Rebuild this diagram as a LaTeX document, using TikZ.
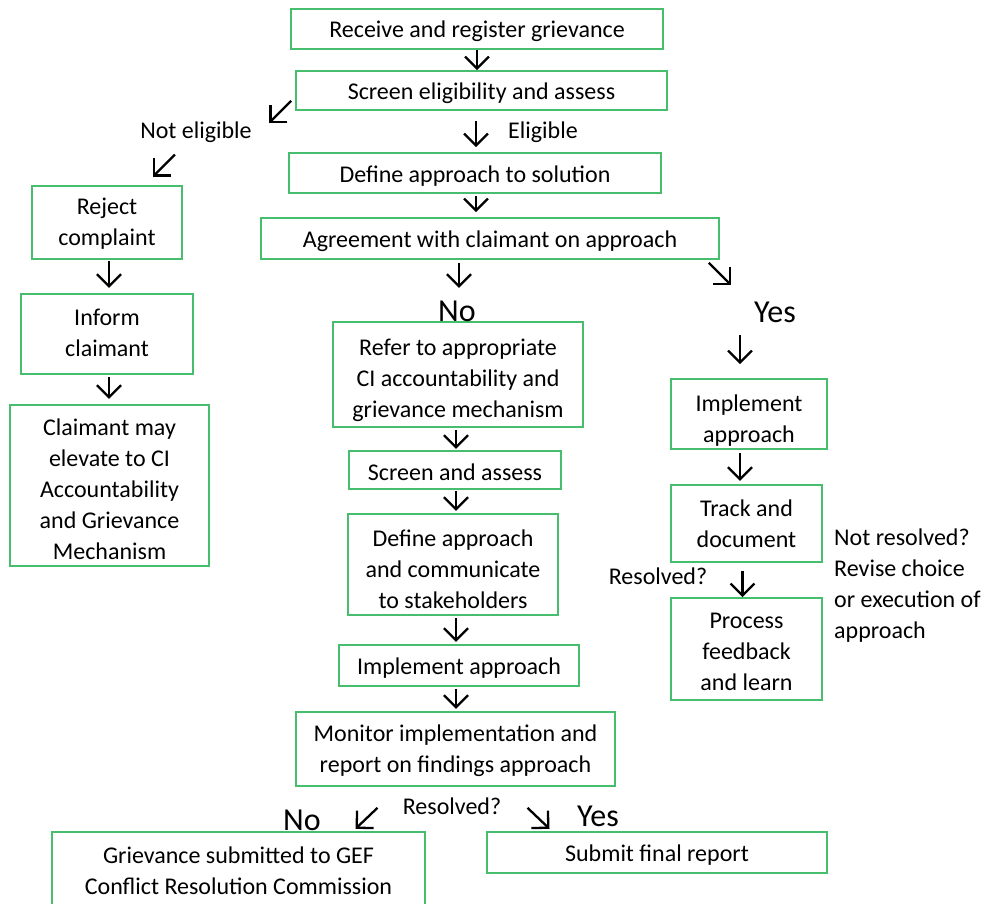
\documentclass[tikz,border=0pt]{standalone}
\usepackage{fontspec}
\setmainfont{Carlito}
\usetikzlibrary{arrows.meta,calc}
\definecolor{boxgreen}{RGB}{70,190,110}
\newcommand\toppad[1]{\rule{0pt}{#1pt}}
\tikzset{
  box/.style={draw=boxgreen,line width=1.6pt,align=center,inner sep=0pt,
    font=\fontsize{24}{31}\selectfont\rule{0pt}{22pt}},
  lbl/.style={inner sep=0pt,font=\fontsize{24}{31}\selectfont},
  big/.style={inner sep=0pt,font=\fontsize{32}{38}\selectfont},
  arr/.style={line width=2.3pt,-{Straight Barb[length=12pt,width=24pt]}}
}
\begin{document}
\begin{tikzpicture}[x=1pt,y=1pt]
  \useasboundingbox (0,0) rectangle (987,-903);
  \node[box,minimum width=372pt,minimum height=40pt] (recv) at (477,-29) {Receive and register grievance};
  \node[box,minimum width=371pt,minimum height=39pt] (screen) at (481.5,-90.5) {Screen eligibility and assess};
  \node[box,minimum width=372pt,minimum height=40pt] (define) at (475,-173) {Define approach to solution};
  \node[box,minimum width=458pt,minimum height=41pt] (agree) at (490,-238.5) {Agreement with claimant on approach};
  \node[box,minimum width=150pt,minimum height=73pt,text depth=2pt] (reject) at (107,-222.5) {Reject\\complaint};
  \node[box,minimum width=172pt,minimum height=80pt,text depth=2pt] (inform) at (107,-334) {Inform\\claimant};
  \node[box,minimum width=199pt,minimum height=161pt] (elevate) at (109.5,-485.5) {\toppad{25}Claimant may\\elevate to CI\\Accountability\\and Grievance\\Mechanism};
  \node[box,minimum width=250pt,minimum height=105pt] (refer) at (458,-374.5) {\toppad{28}Refer to appropriate\\CI accountability and\\grievance mechanism};
  \node[box,minimum width=212pt,minimum height=38pt] (screenB) at (455,-470) {Screen and assess};
  \node[box,minimum width=210pt,minimum height=101pt] (comm) at (453,-564.5) {\toppad{26}Define approach\\and communicate\\to stakeholders};
  \node[box,minimum width=240pt,minimum height=41pt] (impl) at (459,-665.5) {Implement approach};
  \node[box,minimum width=319pt,minimum height=74pt,text depth=1pt] (monitor) at (455.5,-749) {Monitor implementation and\\report on findings approach};
  \node[box,minimum width=373pt,minimum height=78pt] (gef) at (238.5,-871) {Grievance submitted to GEF\\Conflict Resolution Commission};
  \node[box,minimum width=340pt,minimum height=41pt] (final) at (657,-852.5) {Submit final report};
  \node[box,minimum width=156pt,minimum height=70pt] (implR) at (749,-414) {\toppad{30}Implement\\approach};
  \node[box,minimum width=151pt,minimum height=77pt] (track) at (746.5,-523.5) {Track and\\document};
  \node[box,minimum width=151pt,minimum height=102pt] (process) at (746.5,-649) {\toppad{22}Process\\feedback\\and learn};

  \node[lbl] (noteli) at (196,-132) {Not eligible};
  \node[lbl,anchor=west] (eli) at (508,-132) {Eligible};
  \node[big] (noA) at (457,-311) {No};
  \node[big] (yesA) at (775,-312) {Yes};
  \node[lbl] (resA) at (658,-576) {Resolved?};
  \node[lbl,anchor=west,align=left] (notres) at (834,-586) {Not resolved?\\Revise choice\\or execution of\\approach};
  \node[lbl] (resB) at (452,-806) {Resolved?};
  \node[big] (noB) at (302,-820) {No};
  \node[big] (yesB) at (598,-816) {Yes};

  \draw[arr] (recv.south) -- (recv.south |- screen.north);
  \draw[arr] ($(screen.south -| define.north)+(1,-10)$) -- ($(define.north)+(1,5)$);
  \draw[arr] ($(define.south)+(1,-2)$) -- ($(define.south |- agree.north)+(1,5)$);
  \draw[arr] ($(agree.south -| noA.north)+(2,-3)$) -- ++(0,-25);
  \draw[arr] ($(agree.south east)+(-11,-3)$) -- ++(22,-22);
  \draw[arr] ($(implR.north)+(-9,43)$) -- ($(implR.north)+(-9,14)$);
  \draw[arr] ($(implR.south)+(-9,-3)$) -- ($(implR.south)+(-9,-31)$);
  \draw[arr] ($(track.south)+(-4,-8)$) -- ($(process.north)+(-4,0)$);
  \draw[arr] ($(screen.south west)+(-4,10)$) -- ++(-22,-22);
  \draw[arr] ($(noteli.south)+(-21,-12)$) -- ++(-22,-22);
  \draw[arr] ($(reject.south)+(2,-1)$) -- ($(reject.south)+(2,-28)$);
  \draw[arr] ($(inform.south)+(2,-2)$) -- ($(inform.south)+(2,-24)$);
  \draw[arr] ($(refer.south)+(-2,-2)$) -- ($(refer.south)+(-2,-21)$);
  \draw[arr] ($(screenB.south)+(1,-1)$) -- ($(screenB.south)+(1,-21)$);
  \draw[arr] ($(comm.south)+(3,-2)$) -- ($(comm.south)+(3,-26)$);
  \draw[arr] ($(impl.south)+(-3,-2)$) -- ($(impl.south)+(-3,-22)$);
  \draw[arr] ($(monitor.south)+(-78,-21)$) -- ++(-22,-21);
  \draw[arr] ($(monitor.south)+(72,-21)$) -- ++(22,-21);
\end{tikzpicture}
\end{document}
